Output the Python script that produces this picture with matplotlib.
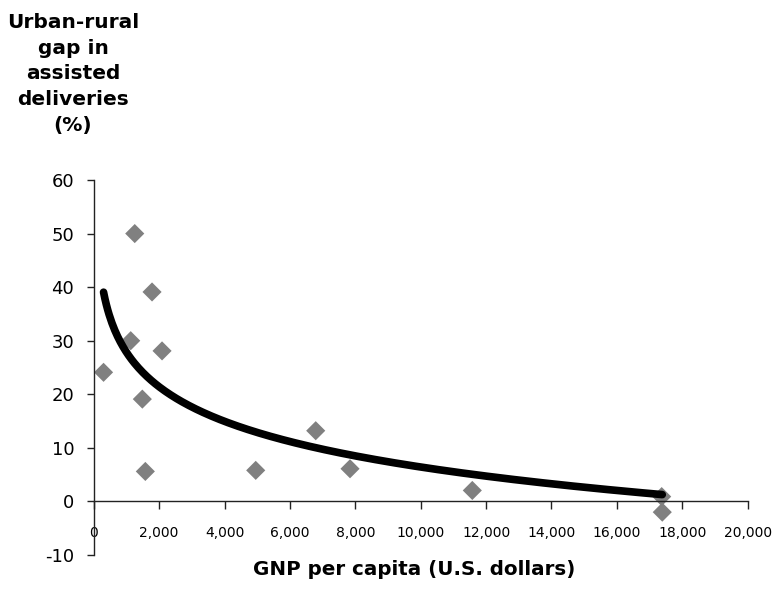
import numpy as np
import matplotlib
matplotlib.use("Agg")
import matplotlib.pyplot as plt

# GNP per capita (US$) and urban-rural gap in assisted deliveries (%)
gnp = [300, 1131, 1254, 1486, 1578, 1783, 2089, 4954, 6789, 7838, 11578, 17370, 17388]
gap = [24.1, 30.0, 50.0, 19.1, 5.6, 39.1, 28.1, 5.8, 13.2, 6.1, 2.05, 0.9, -2.0]

x_ticks = list(range(0, 20001, 2000))
y_ticks = list(range(-10, 61, 10))

plt.rcParams["font.family"] = ["DejaVu Sans"]

fig = plt.figure(figsize=(7.76, 5.98), dpi=100)
ax = fig.add_axes([0.1208, 0.0719, 0.8427, 0.6271])

# Logarithmic trend line fitted to the data
gx = np.array(gnp, dtype=float)
gy = np.array(gap, dtype=float)
b, a = np.polyfit(np.log(gx), gy, 1)
xs = np.linspace(gx.min(), gx.max(), 400)
ax.plot(xs, a + b * np.log(xs), color="black", lw=5.5, solid_capstyle="round", zorder=3)

ax.scatter(gnp, gap, marker="D", s=95, color="#808080", edgecolors="none", zorder=2)

ax.set_xlim(0, 20000)
ax.set_ylim(-10, 60)
ax.set_xticks(x_ticks)
ax.set_xticklabels([f"{v:,}" for v in x_ticks], fontsize=11)
ax.set_yticks(y_ticks)
ax.set_yticklabels([str(v) for v in y_ticks], fontsize=13)

for s in ("top", "right"):
    ax.spines[s].set_visible(False)
ax.spines["bottom"].set_position(("data", 0))
for s in ("left", "bottom"):
    ax.spines[s].set_color("#222222")
    ax.spines[s].set_linewidth(1.0)
ax.tick_params(axis="y", direction="out", length=5, width=1, color="#222222", pad=9)
ax.tick_params(axis="x", direction="out", length=6, width=1, color="#222222", pad=12)

fig.text(0.094, 0.978, "Urban-rural\ngap in\nassisted\ndeliveries\n(%)", ha="center", va="top",
         fontsize=14.5, fontweight="bold", linespacing=1.44)
fig.text(0.534, 0.047, "GNP per capita (U.S. dollars)", ha="center", va="center",
         fontsize=14.3, fontweight="bold")

fig.savefig("out.png", dpi=100)
